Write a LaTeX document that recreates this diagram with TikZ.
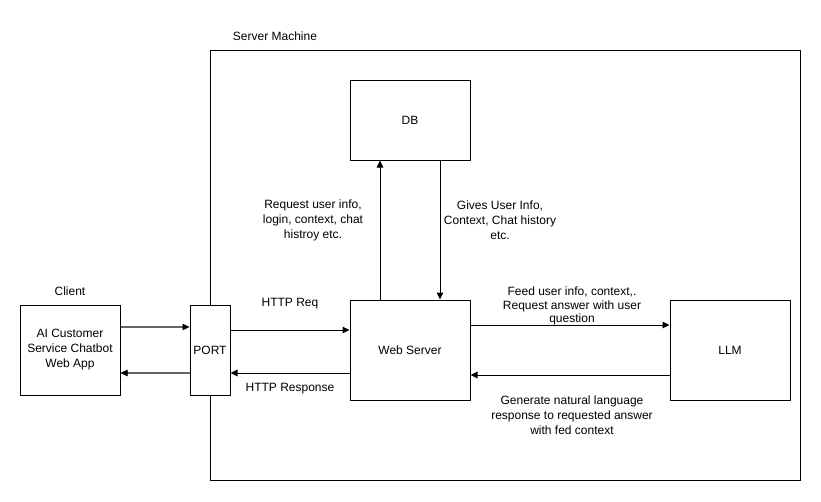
\documentclass[tikz,border=0pt]{standalone}
\usepackage{fontspec}
\setmainfont{Liberation Sans}
\usetikzlibrary{arrows.meta}
\begin{document}
\begin{tikzpicture}[x=1pt,y=-1pt,
  box/.style={draw,line width=1pt,minimum width=#1,inner sep=0pt},
  lbl/.style={font=\fontsize{12}{15}\selectfont,align=center,inner sep=0pt},
  conn/.style={line width=1pt,-{Triangle[length=7pt,width=6.5pt]}},
  gconn/.style={line width=1.6pt,draw=black!60,-{Triangle[length=7pt,width=6.5pt,color=black,fill=black,line width=0.5pt]}}
]
\useasboundingbox (0,0) rectangle (821,501);
\node[draw,line width=1pt,minimum width=590pt,minimum height=430pt,inner sep=0pt] (srv) at (505,265) {};
\node[lbl] (srvl) at (275,36) {Server Machine};
\node[box=120pt,minimum height=80pt,lbl] (db) at (410,120) {DB};
\node[box=120pt,minimum height=100pt,lbl] (ws) at (410,350) {Web Server};
\node[box=120pt,minimum height=100pt,lbl] (llm) at (730,350) {LLM};
\node[box=100pt,minimum height=90pt,lbl] (cl) at (70,350) {AI Customer\\Service Chatbot\\Web App};
\node[lbl] (cll) at (70,291) {Client};
\node[box=40pt,minimum height=90pt,lbl,fill=white] (port) at (210,350) {PORT};
% client <-> port
\draw[gconn] (cl.east |- 0,327) -- (port.west |- 0,327);
\draw[gconn] (port.west |- 0,373) -- (cl.east |- 0,373);
% port <-> web server
\draw[conn] (port.east |- 0,330) -- (ws.west |- 0,330);
\draw[conn] (ws.west |- 0,373) -- (port.east |- 0,373);
\node[lbl] (hreq) at (290,304) {HTTP Req};
\node[lbl] (hres) at (290,389) {HTTP Response};
% web server <-> db
\draw[conn] (ws.north -| 380,0) -- (db.south -| 380,0);
\draw[conn] (db.south -| 440,0) -- (ws.north -| 440,0);
\node[lbl] (reql) at (313,220) {Request user info,\\login, context, chat\\histroy etc.};
\node[lbl] (givl) at (500,220) {Gives User Info,\\Context, Chat history\\etc.};
% web server <-> llm
\draw[conn] (ws.east |- 0,325) -- (llm.west |- 0,325);
\draw[conn] (llm.west |- 0,375) -- (ws.east |- 0,375);
\node[lbl,font=\fontsize{12}{13.5}\selectfont] (feed) at (572,306) {Feed user info, context,.\\Request answer with user\\question};
\node[lbl] (gen) at (572,415) {Generate natural language\\response to requested answer\\with fed context};
\end{tikzpicture}
\end{document}
